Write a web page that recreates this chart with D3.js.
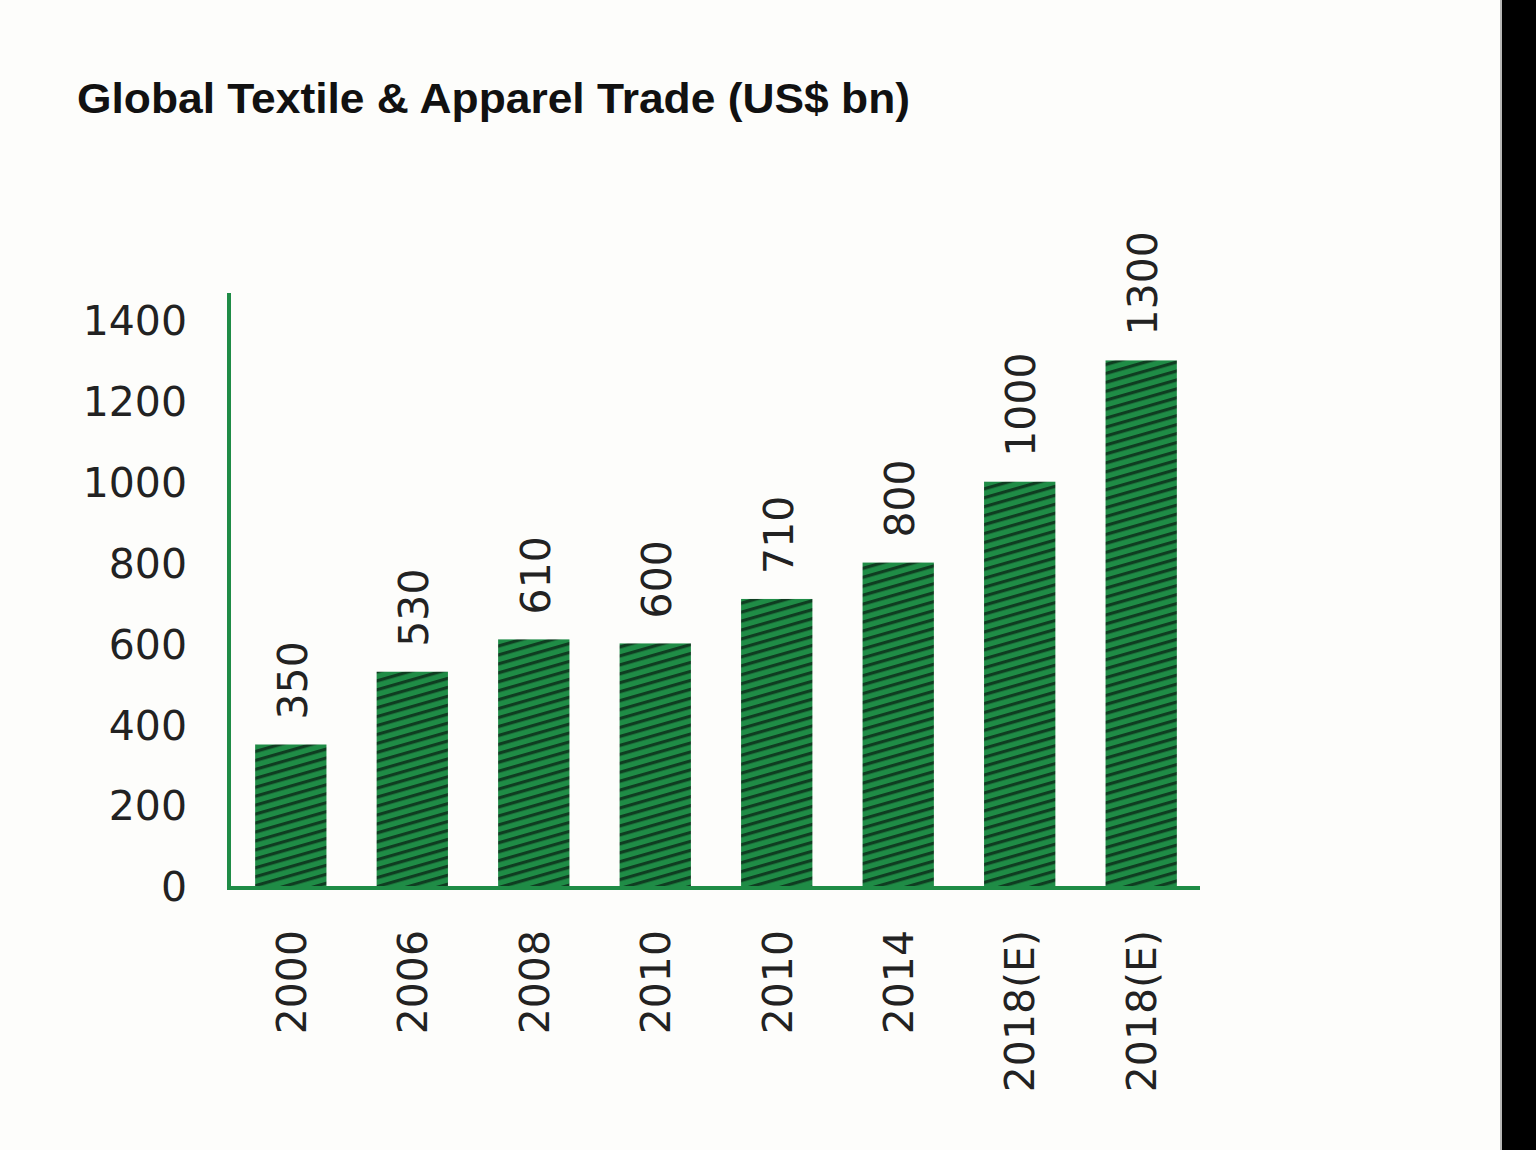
<!DOCTYPE html>
<html>
<head>
<meta charset="utf-8">
<script src="https://cdn.jsdelivr.net/npm/d3@7"></script>
<style>
  html, body { margin: 0; padding: 0; background: #fdfdfb; }
  svg { display: block; }
</style>
</head>
<body>
<svg id="chart" width="1536" height="1150"></svg>
<script>
const categories = ["2000", "2006", "2008", "2010", "2010 ", "2014", "2018(E)", "2018(E) "];
const values = [350, 530, 610, 600, 710, 800, 1000, 1300];
const yTicks = [0, 200, 400, 600, 800, 1000, 1200, 1400];
const title = "Global Textile & Apparel Trade (US$ bn)";

const svg = d3.select("#chart");
const green = "#1f8c46";
const stripe = "#0f3d21";
const textColor = "#222";
const font = "'DejaVu Sans', sans-serif";

// hatch pattern
const defs = svg.append("defs");
const pat = defs.append("pattern")
  .attr("id", "hatch")
  .attr("patternUnits", "userSpaceOnUse")
  .attr("width", 20).attr("height", 8.6)
  .attr("patternTransform", "rotate(-16)");
pat.append("rect").attr("width", 20).attr("height", 8.6).attr("fill", green);
pat.append("rect").attr("y", 0).attr("width", 20).attr("height", 3.2).attr("fill", stripe);

// right black strip
svg.append("rect").attr("x", 1502).attr("y", 0).attr("width", 34).attr("height", 1150).attr("fill", "#000");
svg.append("line").attr("x1", 1501).attr("x2", 1501).attr("y1", 0).attr("y2", 1150)
  .attr("stroke", "#888").attr("stroke-width", 1.2);

// title
svg.append("text")
  .attr("x", 77).attr("y", 113)
  .attr("font-family", "'Liberation Sans', Arial, sans-serif")
  .attr("font-weight", "bold")
  .attr("font-size", 42)
  .attr("fill", "#111")
  .attr("textLength", 833)
  .attr("lengthAdjust", "spacingAndGlyphs")
  .text(title);

const x = d3.scaleBand().domain(categories).range([230, 1202])
  .paddingInner(0.413).paddingOuter(0.207);
const y = d3.scaleLinear().domain([0, 1400]).range([886, 320]);

// y tick labels
const yAxis = d3.axisLeft(y).tickValues(yTicks).tickFormat(d3.format("d")).tickSize(0).tickPadding(42);
const gy = svg.append("g").attr("transform", "translate(229,0)").call(yAxis);
gy.select(".domain").remove();
gy.selectAll("text")
  .attr("font-family", font).attr("font-size", 41).attr("fill", textColor)
  .attr("dy", "0.36em");

// bars
svg.append("g").selectAll("rect").data(values).join("rect")
  .attr("x", (d, i) => x(categories[i]))
  .attr("y", d => y(d))
  .attr("width", x.bandwidth())
  .attr("height", d => y(0) - y(d) + 2)
  .attr("fill", "url(#hatch)");

// value labels
svg.append("g").selectAll("text").data(values).join("text")
  .attr("transform", (d, i) => `translate(${x(categories[i]) + x.bandwidth() / 2 + 1},${y(d) - 25}) rotate(-90)`)
  .attr("dy", "0.36em")
  .attr("text-anchor", "start")
  .attr("font-family", font).attr("font-size", 41).attr("fill", textColor)
  .text(d => d);

// x labels
const xAxis = d3.axisBottom(x).tickSize(0).tickPadding(0).tickFormat(d => d.trim());
const gx = svg.append("g").attr("transform", "translate(0,888)").call(xAxis);
gx.select(".domain").remove();
gx.selectAll("text")
  .attr("font-family", font).attr("font-size", 41).attr("fill", textColor)
  .attr("text-anchor", "end")
  .attr("dy", "0.36em")
  .attr("transform", "translate(0,42) rotate(-90)")
  .attr("x", 0).attr("y", 0);

// axis lines
svg.append("line").attr("x1", 229).attr("x2", 229).attr("y1", 293).attr("y2", y(0) + 4)
  .attr("stroke", green).attr("stroke-width", 4);
svg.append("line").attr("x1", 227).attr("x2", 1200).attr("y1", y(0) + 2).attr("y2", y(0) + 2)
  .attr("stroke", green).attr("stroke-width", 4);
</script>
</body>
</html>
